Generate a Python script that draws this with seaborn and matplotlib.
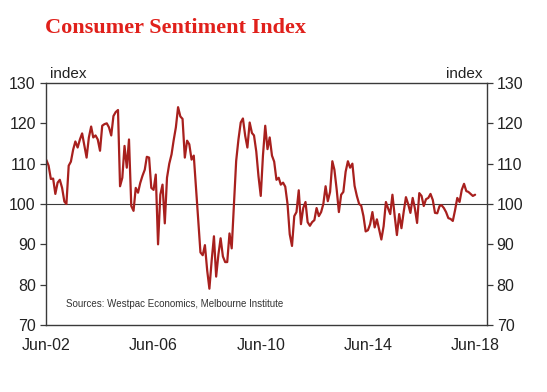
import matplotlib
matplotlib.use("Agg")
import matplotlib.pyplot as plt
import seaborn as sns
import numpy as np
import pandas as pd

# monthly index, Jun-02 .. Jun-18
sentiment = [
    110.9, 109.5, 106.2, 106.3, 102.5, 105.3, 106.0, 104.0, 100.6, 100.0, 109.5, 110.5,
    113.5, 115.5, 114.0, 116.0, 117.5, 114.5, 111.5, 116.5, 119.2, 116.5, 117.0, 116.0,
    113.2, 119.4, 119.8, 120.0, 119.0, 117.0, 121.8, 122.8, 123.3, 104.4, 106.5, 114.4,
    109.0, 116.0, 99.5, 98.3, 104.0, 102.8, 105.2, 107.0, 108.5, 111.7, 111.5, 104.0,
    103.5, 107.3, 90.0, 102.3, 104.8, 95.2, 106.5, 110.0, 112.3, 115.7, 119.0, 124.0,
    121.7, 121.1, 111.5, 115.7, 114.8, 111.0, 112.0, 104.0, 95.7, 88.0, 87.3, 89.8,
    83.5, 79.0, 86.0, 92.0, 82.0, 87.5, 91.5, 87.0, 85.6, 85.6, 92.7, 89.0,
    100.0, 110.7, 116.0, 120.2, 121.2, 116.9, 114.0, 120.2, 117.6, 117.0, 113.0, 106.9,
    102.0, 112.0, 119.4, 113.6, 116.5, 112.0, 110.5, 106.0, 106.5, 104.8, 105.3, 104.3,
    100.0, 92.5, 89.6, 97.0, 98.0, 103.4, 95.0, 99.0, 100.5, 95.5, 94.6, 95.5,
    96.0, 99.0, 97.0, 98.0, 100.0, 104.4, 100.7, 103.0, 110.6, 108.5, 103.6, 98.0,
    102.3, 103.0, 108.0, 110.6, 109.0, 110.0, 104.5, 102.0, 100.0, 99.6, 97.0, 93.2,
    93.5, 95.0, 98.0, 94.2, 96.2, 93.6, 91.2, 94.5, 100.5, 99.0, 97.5, 102.3,
    97.0, 92.3, 97.5, 94.0, 98.0, 101.7, 100.0, 97.8, 101.5, 99.0, 95.3, 102.7,
    102.0, 99.5, 101.2, 101.5, 102.5, 101.0, 97.8, 97.7, 99.5, 99.7, 99.0, 98.0,
    96.5, 96.3, 95.8, 98.5, 101.5, 100.5, 103.5, 105.0, 103.2, 103.0, 102.5, 102.0,
    102.3,
]
months = pd.date_range("2002-06-01", periods=len(sentiment), freq="MS")
y_ticks = [70, 80, 90, 100, 110, 120, 130]
x_label_years = [2002, 2006, 2010, 2014, 2018]

df = pd.DataFrame({"month": months, "index": sentiment})

sns.set_style("white")
plt.rcParams["font.family"] = ["Liberation Sans", "DejaVu Sans"]

axis_col = "#3a3a3a"
line_col = "#A8201E"

fig = plt.figure(figsize=(5.47, 3.92), dpi=100)
ax = fig.add_axes([0.0832, 0.1709, 0.8071, 0.6174])

sns.lineplot(data=df, x="month", y="index", color=line_col, linewidth=1.6, ax=ax)
ax.axhline(100, color=axis_col, linewidth=0.8, zorder=1)

ax.set_ylim(70, 130)
ax.set_xlim(pd.Timestamp("2002-05-20"), pd.Timestamp("2018-11-10"))
ax.set_yticks(y_ticks)
ax.set_xlabel("")
ax.set_ylabel("")

# ticks every two years, labels every four
tick_dates = [pd.Timestamp(f"{y}-06-01") for y in range(2002, 2019, 2)]
ax.set_xticks(tick_dates)
ax.set_xticklabels([f"Jun-{str(d.year)[2:]}" if d.year in x_label_years else "" for d in tick_dates])

for s in ax.spines.values():
    s.set_color(axis_col)
    s.set_linewidth(1.0)

ax.tick_params(axis="both", direction="out", length=4, width=0.9, color=axis_col,
               labelsize=11.5, labelcolor="#222222")
ax.tick_params(axis="x", pad=5)
ax.tick_params(axis="y", pad=3, left=True, right=True, labelleft=True, labelright=True)

ax.text(0.01, 1.01, "index", transform=ax.transAxes, ha="left", va="bottom",
        fontsize=11, color="#222222")
ax.text(0.99, 1.01, "index", transform=ax.transAxes, ha="right", va="bottom",
        fontsize=11, color="#222222")
ax.text(0.047, 0.085, "Sources: Westpac Economics, Melbourne Institute",
        transform=ax.transAxes, ha="left", va="center", fontsize=7, color="#333333")

fig.text(45 / 547, 1 - 33 / 392, "Consumer Sentiment Index", family="Liberation Serif",
         fontweight="bold", fontsize=16, color="#E0201B", ha="left", va="baseline")

fig.savefig("out.png", dpi=100)
